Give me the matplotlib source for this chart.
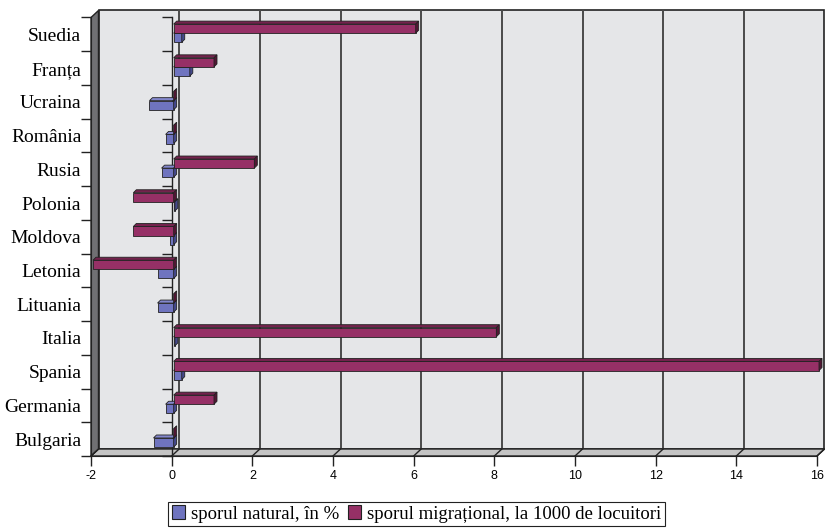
import matplotlib.pyplot as plt
import numpy as np
from matplotlib.patches import Polygon, Patch
from matplotlib.transforms import ScaledTranslation

# Natural and migration increase by country
countries = ["Suedia", "Franța", "Ucraina", "România", "Rusia", "Polonia", "Moldova",
             "Letonia", "Lituania", "Italia", "Spania", "Germania", "Bulgaria"]
natural = [0.2, 0.4, -0.6, -0.2, -0.3, 0.03, -0.1, -0.4, -0.4, 0.03, 0.2, -0.2, -0.5]
migration = [6, 1, 0, 0, 2, -1, -1, -2, 0, 8, 16, 1, 0]
x_ticks = [-2, 0, 2, 4, 6, 8, 10, 12, 14, 16]
legend_labels = ["sporul natural, în %", "sporul migrațional, la 1000 de locuitori"]

plt.rcParams["axes.unicode_minus"] = False
serif = "Liberation Serif"
sans = "Liberation Sans"

W, H = 825, 528
fig = plt.figure(figsize=(W / 100, H / 100), dpi=100)
rect = [91 / W, 72 / H, 726 / W, 438.5 / H]
ax = fig.add_axes(rect)
ax.patch.set_visible(False)

n = len(countries)
xmin, xmax = x_ticks[0], x_ticks[-1]
ax.set_xlim(xmin, xmax)
ax.set_ylim(n - 0.5, -0.5)

px_x = rect[2] * W / (xmax - xmin)
px_y = rect[3] * H / n
# depth of the box and of the bars, in data units
wx, wy = 7.5 / px_x, 7 / px_y
bx, by = 3 / px_x, 3 / px_y
y_top, y_bot = -0.5, n - 0.5
edge = "#222222"

# back wall, floor and side wall
ax.add_patch(Polygon([(xmin + wx, y_top - wy), (xmax + wx, y_top - wy),
                      (xmax + wx, y_bot - wy), (xmin + wx, y_bot - wy)],
                     facecolor="#e5e6e8", edgecolor=edge, lw=1.2, zorder=0, clip_on=False))
for t in x_ticks[1:-1]:
    ax.plot([t + wx, t + wx], [y_top - wy, y_bot - wy], color="#4a4a4a", lw=1.4,
            zorder=0.5, clip_on=False)
ax.add_patch(Polygon([(xmin, y_bot), (xmax, y_bot), (xmax + wx, y_bot - wy), (xmin + wx, y_bot - wy)],
                     facecolor="#c4c4c4", edgecolor=edge, lw=1, zorder=1, clip_on=False))
for t in x_ticks:
    ax.plot([t, t + wx], [y_bot, y_bot - wy], color=edge, lw=1, zorder=1.1, clip_on=False)
ax.add_patch(Polygon([(xmin, y_bot), (xmin, y_top), (xmin + wx, y_top - wy), (xmin + wx, y_bot - wy)],
                     facecolor="#707073", edgecolor=edge, lw=1, zorder=1, clip_on=False))

# category axis crossing at zero
bounds = np.arange(n + 1) - 0.5
ax.plot([0, 0], [y_top, y_bot], color=edge, lw=1, zorder=1.2, clip_on=False)
ax.plot(np.zeros(n + 1), bounds, ls="none", marker=0, markersize=7, color=edge,
        mew=1, zorder=1.2, clip_on=False)

# 3D bars
off = ax.transData + ScaledTranslation(2 / 100, 2 / 100, fig.dpi_scale_trans)
bar_h = 0.27


def bar3d(values, centers, front, top, side, z):
    bars = ax.barh(centers, values, height=bar_h, color=front, edgecolor=edge,
                   linewidth=0.6, zorder=z)
    for b, v, c in zip(bars, values, centers):
        b.set_transform(off)
        b.set_clip_on(False)
        x0, x1 = min(0, v), max(0, v)
        y0, y1 = c - bar_h / 2, c + bar_h / 2
        ax.add_patch(Polygon([(x0, y0), (x1, y0), (x1 + bx, y0 - by), (x0 + bx, y0 - by)],
                             facecolor=top, edgecolor=edge, lw=0.6, zorder=z,
                             transform=off, clip_on=False))
        ax.add_patch(Polygon([(x1, y0), (x1, y1), (x1 + bx, y1 - by), (x1 + bx, y0 - by)],
                             facecolor=side, edgecolor=edge, lw=0.6, zorder=z,
                             transform=off, clip_on=False))


idx = np.arange(n)
bar3d(natural, idx + 0.16, "#6f74bf", "#8387cc", "#45498c", 3)
bar3d(migration, idx - 0.11, "#963066", "#74224d", "#521634", 4)

# axes and ticks
for s in ("top", "right"):
    ax.spines[s].set_visible(False)
ax.spines["left"].set_color(edge)
ax.spines["bottom"].set_color(edge)
ax.spines["left"].set_zorder(1.5)

ax.set_xticks(x_ticks)
ax.tick_params(axis="x", length=7, width=1, color=edge, labelsize=9, pad=3)
for lab in ax.get_xticklabels():
    lab.set_fontfamily(sans)

ax.set_yticks(bounds)
ax.set_yticklabels([])
ax.tick_params(axis="y", which="major", length=7, width=1, color=edge)
ax.set_yticks(idx, minor=True)
ax.set_yticklabels(countries, minor=True, fontfamily=serif, fontsize=14)
ax.tick_params(axis="y", which="minor", length=0, pad=7)

handles = [Patch(facecolor="#6f74bf", edgecolor=edge, lw=0.8),
           Patch(facecolor="#963066", edgecolor=edge, lw=0.8)]
leg = fig.legend(handles, legend_labels, loc="center", bbox_to_anchor=(0.505, 0.0265), ncol=2,
                 frameon=True, fancybox=False, edgecolor=edge, framealpha=1,
                 prop={"family": serif, "size": 13.5}, handlelength=0.7, handleheight=0.7,
                 handletextpad=0.3, columnspacing=0.5, borderpad=0.2, borderaxespad=0)
leg.get_frame().set_linewidth(0.8)

fig.savefig("out.png", dpi=100)
